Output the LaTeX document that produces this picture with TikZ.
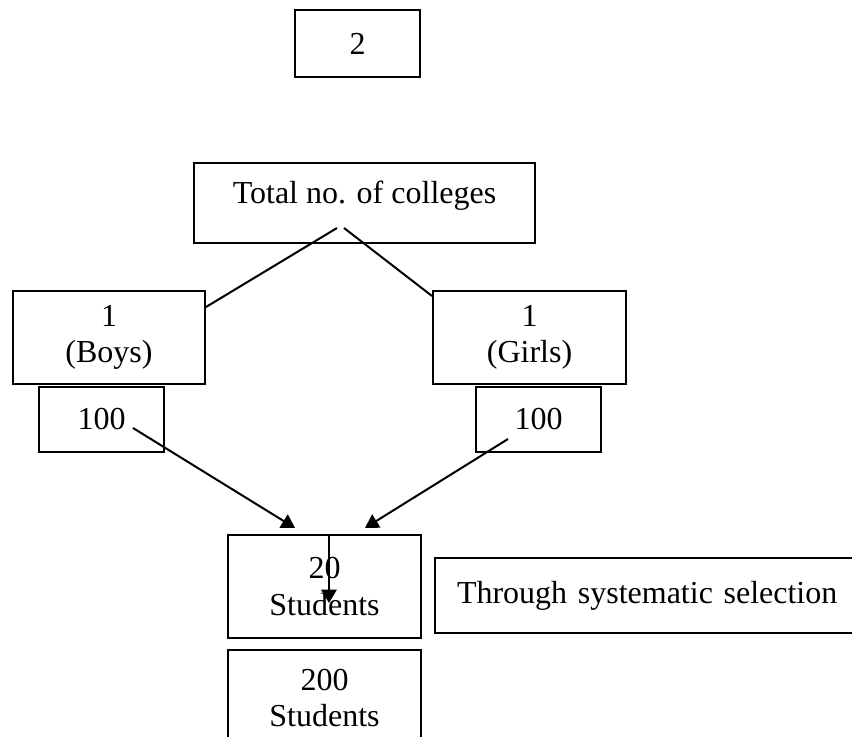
\documentclass[tikz,border=0pt]{standalone}
\usepackage{fontspec}
\setmainfont{Liberation Serif}
\usetikzlibrary{arrows.meta,calc}
\tikzstyle{cbox} = [draw=black, line width=1.5pt, rectangle, inner sep=0pt, align=center, font=\fontsize{24}{27.5}\selectfont]
\tikzstyle{link} = [line width=1.5pt]
\tikzstyle{flow} = [line width=1.5pt, -{Triangle[length=10pt,width=11.5pt]}]

\begin{document}
\begin{tikzpicture}[x=0.75pt,y=-0.75pt]
\useasboundingbox (0,0) rectangle (852,737);

% caselle
\node [cbox, minimum width=93.75pt, minimum height=50.25pt] (two) at (357.5,43.5) {2};
\node [cbox, anchor=north, minimum width=255.75pt, text height=30.75pt, text depth=29.25pt] (colleges) at (364.5,162) {Total no. of colleges};
\node [cbox, minimum width=144pt, minimum height=69.75pt] (boys) at (109,337.5) {1\\(Boys)};
\node [cbox, minimum width=144.75pt, minimum height=69.75pt] (girls) at (529.5,337.5) {1\\(Girls)};
\node [cbox, minimum width=93.75pt, minimum height=48.75pt] (boyscount) at (101.5,419.5) {100};
\node [cbox, minimum width=93.75pt, minimum height=48.75pt] (girlscount) at (538.5,419.5) {100};
\node [cbox, minimum width=144.75pt, minimum height=77.25pt] (sample) at (324.5,586.5) {20\\Students};
\node [cbox, anchor=west, minimum height=56.25pt, text width=300pt, inner xsep=16.5pt, align=left] (method) at (434,595.5) {Through systematic selection};
\node [cbox, anchor=north, minimum width=144.75pt, minimum height=72pt] (students) at (324.5,649) {200\\Students};

% linee
\coordinate (splitL) at (337,228);
\coordinate (splitR) at (344,228);
\draw [link] (splitL) -- ($(boys.north east)+(0,17)$);
\draw [link] (splitR) -- ($(girls.north west)+(0,6)$);

\coordinate (boysfrom) at (133,428);
\coordinate (girlsfrom) at (508,439);
\coordinate (joinL) at (295,528);
\coordinate (joinR) at (365,528);
\draw [flow] (boysfrom) -- (joinL);
\draw [flow] (girlsfrom) -- (joinR);

\coordinate (pick) at (329,603);
\draw [flow] (sample.north -| pick) -- (pick);
\end{tikzpicture}
\end{document}
